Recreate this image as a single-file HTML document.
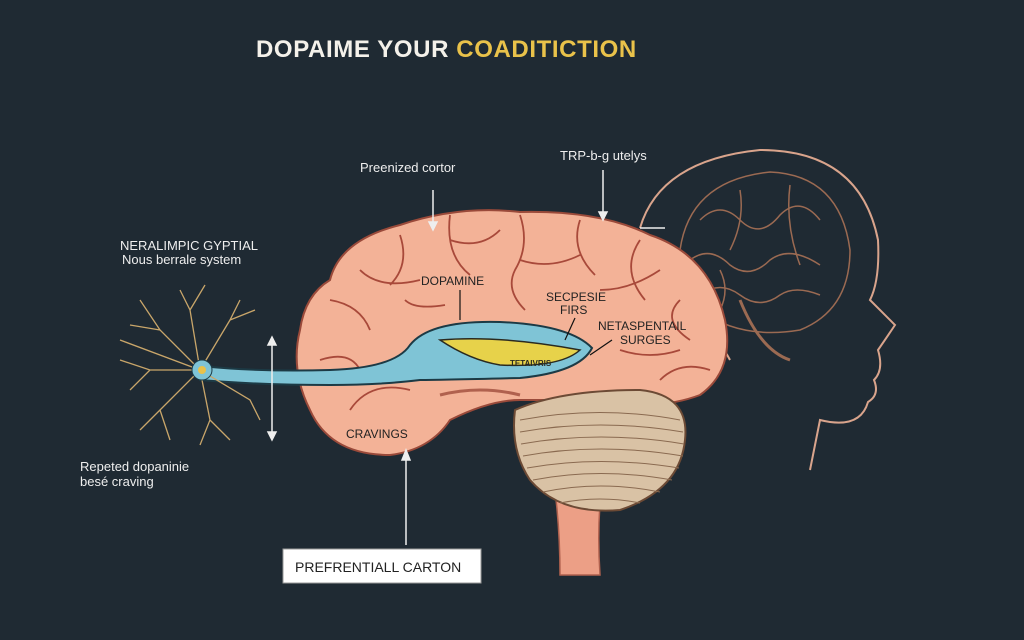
<!DOCTYPE html>
<html><head><meta charset="utf-8"><style>
html,body{margin:0;padding:0;background:#1f2a33;}
svg{display:block;}
text{font-family:"Liberation Sans",sans-serif;}
</style></head><body>
<svg width="1024" height="640" viewBox="0 0 1024 640" xmlns="http://www.w3.org/2000/svg">
<rect width="1024" height="640" fill="#1f2a33"/>
<text x="256" y="57" font-size="24" font-weight="bold" letter-spacing="0.6" fill="#f4f1ea">DOPAIME YOUR <tspan fill="#e9c24a">COADITICTION</tspan></text>

<g fill="none" stroke="#d9a48c" stroke-width="2">
<path d="M640 228 Q660 160 760 150 Q860 150 878 240 Q880 280 870 300 L895 325 Q885 340 878 350 Q884 370 874 380 Q880 395 868 402 Q860 430 820 420 L810 470"/>
<path d="M730 360 Q720 340 700 330"/>
</g>
<g fill="none" stroke="#9b6a52" stroke-width="1.5">
<path d="M680 250 Q690 180 770 172 Q840 175 850 250 Q850 310 800 330 Q740 340 700 310 Q675 290 680 250Z"/>
<path d="M700 220 q20 -20 40 0 q20 20 40 -5 q20 -20 40 5 M690 260 q20 -15 40 5 q20 15 40 -5 q20 -15 50 5 M700 295 q20 -15 40 0 q20 15 40 0 q15 -10 40 0 M740 190 q5 30 -10 60 M790 185 q-5 40 10 80 M720 270 q10 20 0 40"/>
<path d="M740 300 Q760 350 790 360" stroke-width="3"/>
</g>

<path d="M545 430 Q560 500 560 575 L600 575 Q595 500 610 440 Z" fill="#ec9f86" stroke="#b0614e" stroke-width="1.5"/>
<path d="M330 280 Q340 240 400 225 Q460 205 520 212 Q600 210 650 235 Q710 255 725 320 Q735 370 700 395 Q660 410 620 400 L520 400 Q490 400 450 420 Q430 450 390 455 Q330 455 310 410 Q290 370 300 330 Q305 295 330 280 Z" fill="#f3b297" stroke="#9a4a3a" stroke-width="2"/>
<path d="M515 410 Q560 390 640 390 Q690 395 685 440 Q680 490 620 510 Q560 515 530 480 Q510 450 515 410 Z" fill="#d9c2a5" stroke="#6c4a35" stroke-width="2"/>
<g stroke="#8a6a50" stroke-width="1" fill="none">
<path d="M520 420 Q600 405 680 420 M520 432 Q600 418 683 432 M521 444 Q600 430 684 444 M523 456 Q600 442 683 456 M527 468 Q600 455 679 468 M533 480 Q600 467 672 480 M543 492 Q600 480 660 492 M560 503 Q600 495 640 503"/>
</g>
<g fill="none" stroke="#a8493a" stroke-width="1.8">
<path d="M400 235 q10 30 -10 50 M450 215 q-5 40 20 60 M520 215 q10 30 -5 55 q-10 20 10 40 M580 220 q-10 30 15 55 M640 240 q-20 30 5 60 M330 300 q30 5 40 30 M360 270 q20 20 60 10 M520 260 q30 10 60 -5 M600 290 q30 0 60 -20 M680 300 q-20 20 10 40 M320 360 q30 -10 40 10 M350 410 q20 -30 60 -20 M620 350 q30 10 60 0 M450 240 q30 10 50 -10 M660 380 q20 -20 50 -10 M405 300 q10 10 40 5"/>
</g>
<path d="M200 366 Q260 372 330 370 Q395 368 410 345 Q430 320 500 322 Q570 325 592 348 Q580 372 520 378 Q440 380 420 380 Q380 385 330 385 Q260 385 200 380 Z" fill="#7fc4d6" stroke="#1c3a45" stroke-width="2"/>
<path d="M440 340 Q500 335 580 350 Q560 368 500 365 Q470 360 440 340Z" fill="#e7d24a" stroke="#2a2a20" stroke-width="1.5"/>
<text x="510" y="366" font-size="8" font-weight="bold" fill="#2a2a20">TETAIVRIS</text>
<path d="M440 395 Q480 385 520 395" stroke="#b0614e" stroke-width="3" fill="none"/>

<g stroke="#c9a66a" stroke-width="1.3" fill="none">
<path d="M200 370 L160 330 L140 300 M160 330 L130 325 M200 370 L190 310 L180 290 M190 310 L205 285 M200 370 L230 320 L240 300 M230 320 L255 310 M200 370 L150 370 L120 360 M150 370 L130 390 M200 370 L160 410 L140 430 M160 410 L170 440 M200 370 L210 420 L200 445 M210 420 L230 440 M200 370 L250 400 L260 420 M200 370 L120 340"/>
</g>
<circle cx="202" cy="370" r="10" fill="#7fc4d6" stroke="#1c3a45"/>
<circle cx="202" cy="370" r="4" fill="#e9c24a"/>

<g stroke="#eeeeee" stroke-width="1.5" fill="#eeeeee">
<line x1="433" y1="190" x2="433" y2="225"/><path d="M429 222 L433 230 L437 222Z"/>
<line x1="603" y1="170" x2="603" y2="215"/><path d="M599 212 L603 220 L607 212Z"/>
<line x1="272" y1="340" x2="272" y2="438"/><path d="M268 345 L272 337 L276 345Z"/><path d="M268 432 L272 440 L276 432Z"/>
<line x1="406" y1="545" x2="406" y2="455"/><path d="M402 460 L406 450 L410 460Z"/>
<line x1="640" y1="228" x2="665" y2="228"/>
</g>
<g stroke="#111" stroke-width="1.2">
<line x1="460" y1="290" x2="460" y2="320"/><line x1="575" y1="318" x2="565" y2="340"/><line x1="612" y1="340" x2="590" y2="355"/>
</g>

<g fill="#eeeeee" font-size="13">
<text x="360" y="172">Preenized cortor</text>
<text x="560" y="160">TRP-b-g utelys</text>
<text x="120" y="250">NERALIMPIC GYPTIAL</text>
<text x="122" y="264">Nous berrale system</text>
<text x="80" y="471">Repeted dopaninie</text>
<text x="80" y="486">besé craving</text>
</g>
<g fill="#222" font-size="12">
<text x="421" y="285">DOPAMINE</text>
<text x="546" y="301">SECPESIE</text>
<text x="560" y="314">FIRS</text>
<text x="598" y="330">NETASPENTAIL</text>
<text x="620" y="344">SURGES</text>
<text x="346" y="438">CRAVINGS</text>
</g>
<rect x="283" y="549" width="198" height="34" fill="#ffffff" stroke="#999"/>
<text x="295" y="572" font-size="14" fill="#222">PREFRENTIALL CARTON</text>
</svg>
</body></html>
